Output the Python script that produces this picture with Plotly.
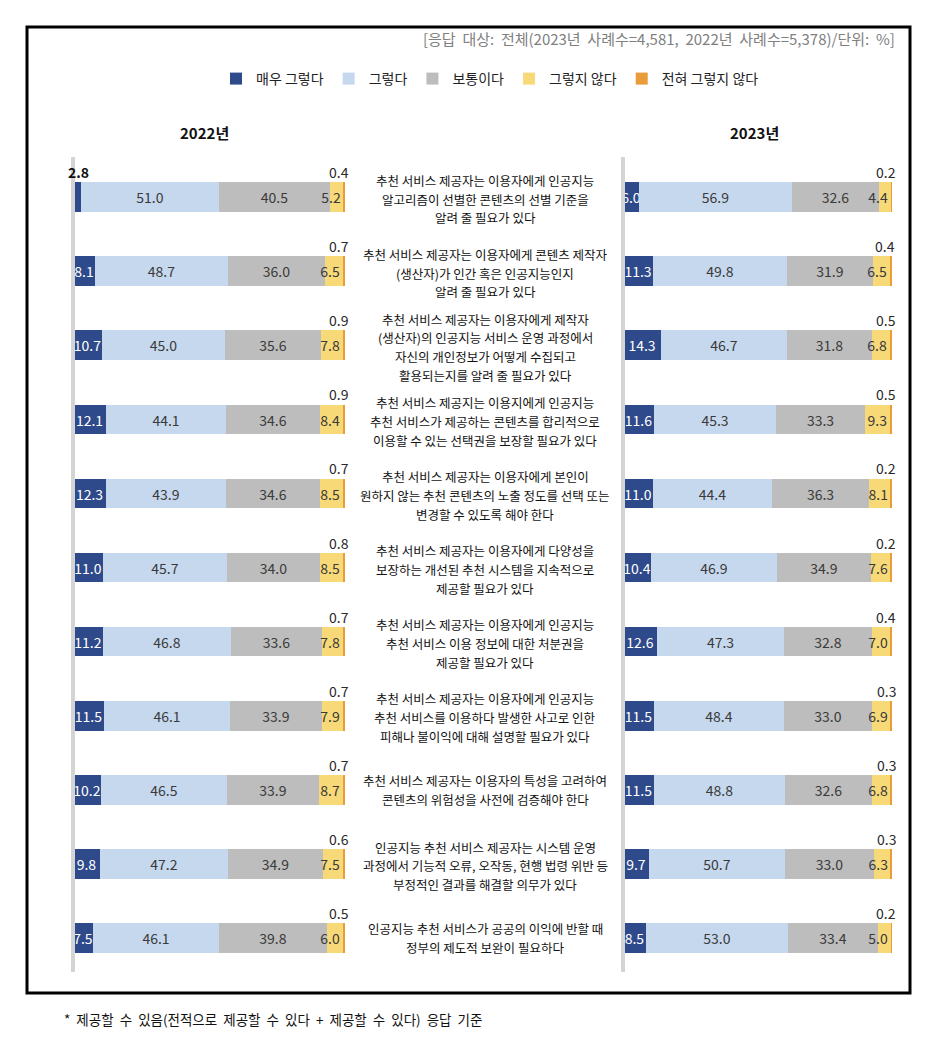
import plotly.graph_objects as go

W, H = 938, 1046

categories = ["매우 그렇다", "그렇다", "보통이다", "그렇지 않다", "전혀 그렇지 않다"]
colors = ["#2F4A8A", "#C6D8EE", "#BDBDBD", "#F8D978", "#EA9B3A"]

statements = [
    ["추천 서비스 제공자는 이용자에게 인공지능", "알고리즘이 선별한 콘텐츠의 선별 기준을", "알려 줄 필요가 있다"],
    ["추천 서비스 제공자는 이용자에게 콘텐츠 제작자", "(생산자)가 인간 혹은 인공지능인지", "알려 줄 필요가 있다"],
    ["추천 서비스 제공자는 이용자에게 제작자", "(생산자)의 인공지능 서비스 운영 과정에서", "자신의 개인정보가 어떻게 수집되고", "활용되는지를 알려 줄 필요가 있다"],
    ["추천 서비스 제공지는 이용지에게 인공지능", "추천 서비스가 제공하는 콘텐츠를 합리적으로", "이용할 수 있는 선택권을 보장할 필요가 있다"],
    ["추천 서비스 제공자는 이용자에게 본인이", "원하지 않는 추천 콘텐츠의 노출 정도를 선택 또는", "변경할 수 있도록 해야 한다"],
    ["추천 서비스 제공자는 이용자에게 다양성을", "보장하는 개선된 추천 시스템을 지속적으로", "제공할 필요가 있다"],
    ["추천 서비스 제공자는 이용자에게 인공지능", "추천 서비스 이용 정보에 대한 처분권을", "제공할 필요가 있다"],
    ["추천 서비스 제공자는 이용자에게 인공지능", "추천 서비스를 이용하다 발생한 사고로 인한", "피해나 불이익에 대해 설명할 필요가 있다"],
    ["추천 서비스 제공자는 이용자의 특성을 고려하여", "콘텐츠의 위험성을 사전에 검증해야 한다"],
    ["인공지능 추천 서비스 제공자는 시스템 운영", "과정에서 기능적 오류, 오작동, 현행 법령 위반 등", "부정적인 결과를 해결할 의무가 있다"],
    ["인공지능 추천 서비스가 공공의 이익에 반할 때", "정부의 제도적 보완이 필요하다"],
]

# 2022 values per category (rows top to bottom)
y2022_very = [2.8, 8.1, 10.7, 12.1, 12.3, 11.0, 11.2, 11.5, 10.2, 9.8, 7.5]
y2022_yes = [51.0, 48.7, 45.0, 44.1, 43.9, 45.7, 46.8, 46.1, 46.5, 47.2, 46.1]
y2022_mid = [40.5, 36.0, 35.6, 34.6, 34.6, 34.0, 33.6, 33.9, 33.9, 34.9, 39.8]
y2022_no = [5.2, 6.5, 7.8, 8.4, 8.5, 8.5, 7.8, 7.9, 8.7, 7.5, 6.0]
y2022_never = [0.4, 0.7, 0.9, 0.9, 0.7, 0.8, 0.7, 0.7, 0.7, 0.6, 0.5]

# 2023 values
y2023_very = [6.0, 11.3, 14.3, 11.6, 11.0, 10.4, 12.6, 11.5, 11.5, 9.7, 8.5]
y2023_yes = [56.9, 49.8, 46.7, 45.3, 44.4, 46.9, 47.3, 48.4, 48.8, 50.7, 53.0]
y2023_mid = [32.6, 31.9, 31.8, 33.3, 36.3, 34.9, 32.8, 33.0, 32.6, 33.0, 33.4]
y2023_no = [4.4, 6.5, 6.8, 9.3, 8.1, 7.6, 7.0, 6.9, 6.8, 6.3, 5.0]
y2023_never = [0.2, 0.4, 0.5, 0.5, 0.2, 0.2, 0.4, 0.3, 0.3, 0.3, 0.2]

header = "[응답\u00a0 대상:\u00a0 전체(2023년\u00a0 사례수=4,581,\u00a0 2022년\u00a0 사례수=5,378)/단위:\u00a0 %]"
footnote = "*\u00a0 제공할\u00a0 수\u00a0 있음(전적으로\u00a0 제공할\u00a0 수\u00a0 있다\u00a0 +\u00a0 제공할\u00a0 수\u00a0 있다)\u00a0 응답\u00a0 기준"
panel_titles = ["2022년", "2023년"]

rows = list(range(len(statements)))
KR = "Noto Sans CJK KR"
NUM = "Noto Sans CJK KR"

fig = go.Figure()

panels = [
    ("x", "y", [y2022_very, y2022_yes, y2022_mid, y2022_no, y2022_never]),
    ("x2", "y2", [y2023_very, y2023_yes, y2023_mid, y2023_no, y2023_never]),
]

annotations = []
for pi, (xa, ya, series) in enumerate(panels):
    for ci, vals in enumerate(series):
        if ci == 4:
            texts = [""] * len(vals)
        elif ci == 0:
            texts = [f"{v:.1f}" if v >= 5 else "" for v in vals]
        else:
            texts = [f"{v:.1f}" for v in vals]
        fig.add_trace(go.Bar(
            x=vals, y=rows, orientation="h", xaxis=xa, yaxis=ya,
            name=categories[ci], marker=dict(color=colors[ci], line=dict(width=0)),
            width=0.40, text=texts, textposition="inside",
            insidetextanchor="end" if ci == 3 else "middle",
            constraintext="none", textangle=0,
            insidetextfont=dict(family=NUM, size=14,
                                color="white" if ci == 0 else "#3a3a3a"),
            cliponaxis=False, showlegend=(pi == 0), hoverinfo="skip",
        ))
    xref = "x" if pi == 0 else "x2"
    yref = "y" if pi == 0 else "y2"
    for r in rows:
        total = sum(s[r] for s in series)
        annotations.append(dict(
            x=total, y=r, xref=xref, yref=yref, text=f"{series[4][r]:.1f}",
            showarrow=False, xanchor="right", yanchor="middle", xshift=6, yshift=25,
            font=dict(family=NUM, size=14, color="#2a2a2a")))
        if series[0][r] < 5:
            annotations.append(dict(
                x=0, y=r, xref=xref, yref=yref, text=f"<b>{series[0][r]:.1f}</b>",
                showarrow=False, xanchor="left", yanchor="middle", xshift=-7, yshift=25,
                font=dict(family=NUM, size=14, color="#111")))

LINE = 18.7
for r, lines in enumerate(statements):
    n = len(lines)
    for i, ln in enumerate(lines):
        annotations.append(dict(
            x=485 / W, y=r, xref="paper", yref="y", text=ln, showarrow=False,
            xanchor="center", yanchor="middle", yshift=-(i - (n - 1) / 2) * LINE + (-2 if n > 2 else 0),
            font=dict(family=KR, size=12.5, color="#111")))

annotations += [
    dict(x=897 / W, y=1 - 38 / H, xref="paper", yref="paper", text=header, showarrow=False,
         xanchor="right", yanchor="middle", font=dict(family=KR, size=15, color="#808080")),
    dict(x=204 / W, y=1 - 133 / H, xref="paper", yref="paper", text=f"<b>{panel_titles[0]}</b>",
         showarrow=False, xanchor="center", yanchor="middle", font=dict(family=KR, size=15, color="#111")),
    dict(x=754 / W, y=1 - 133 / H, xref="paper", yref="paper", text=f"<b>{panel_titles[1]}</b>",
         showarrow=False, xanchor="center", yanchor="middle", font=dict(family=KR, size=15, color="#111")),
    dict(x=62 / W, y=1 - 1019 / H, xref="paper", yref="paper", text=footnote, showarrow=False,
         xanchor="left", yanchor="middle", font=dict(family=KR, size=13.5, color="#111")),
]

ytop, ybot = 1 - 160 / H, 1 - 975 / H
yax = dict(range=[len(rows) - 0.5, -0.5], domain=[ybot, ytop], showticklabels=False,
           showgrid=False, zeroline=False, showline=False, fixedrange=True)
XMAX = 106
xax_common = dict(range=[0, XMAX], showticklabels=False, showgrid=False, zeroline=False,
                  showline=False, fixedrange=True)
L_PX = 2.72
R_PX = 2.685

shapes = [
    dict(type="rect", xref="paper", yref="paper", x0=27 / W, x1=910 / W,
         y0=1 - 993 / H, y1=1 - 27 / H, line=dict(color="black", width=3)),
    dict(type="line", xref="paper", yref="paper", x0=73 / W, x1=73 / W,
         y0=1 - 972 / H, y1=1 - 157 / H, line=dict(color="#D4D4D4", width=4), layer="above"),
    dict(type="line", xref="paper", yref="paper", x0=623 / W, x1=623 / W,
         y0=1 - 972 / H, y1=1 - 157 / H, line=dict(color="#D4D4D4", width=4), layer="above"),
]

fig.update_layout(
    width=W, height=H, margin=dict(l=0, r=0, t=0, b=0),
    paper_bgcolor="white", plot_bgcolor="rgba(0,0,0,0)",
    barmode="stack", bargap=0,
    xaxis=dict(domain=[73 / W, (73 + L_PX * XMAX) / W], anchor="y", **xax_common),
    xaxis2=dict(domain=[623 / W, (623 + R_PX * XMAX) / W], anchor="y2", **xax_common),
    yaxis=dict(anchor="x", **yax),
    yaxis2=dict(anchor="x2", **yax),
    legend=dict(orientation="h", x=490 / W, xanchor="center", y=1 - 79 / H, yanchor="middle",
                font=dict(family=KR, size=14, color="#222"), itemwidth=30,
                traceorder="normal", bgcolor="rgba(0,0,0,0)"),
    annotations=annotations, shapes=shapes,
    font=dict(family=KR),
)

fig.write_html("out.html", config={"displayModeBar": False},
               post_script="document.body.style.margin='0';document.body.style.overflow='hidden';")
